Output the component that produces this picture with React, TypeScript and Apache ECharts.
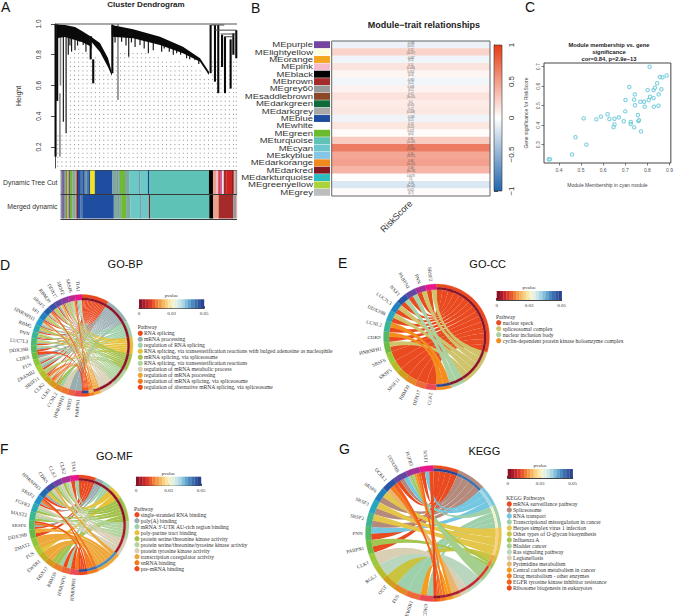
import React, { useEffect, useRef } from "react";
import * as echarts from "echarts";

const SANS = "Liberation Sans";
const SERIF = "Liberation Serif";

/* ---------- A: dendrogram ---------- */
// [x (percent of leaves), upper height, lower height]
const archOne = [[1.6, 0.997, 0.909], [5.5, 0.9935, 0.915], [11, 0.98, 0.896], [14.8, 0.954, 0.883], [19.2, 0.922, 0.857]];
const archTwo = [[19.2, 0.922, 0.896], [24.7, 0.876, 0.818], [29.1, 0.779, 0.72], [31.3, 0.681, 0.662]];
const archThree = [[31.2, 0.9935, 0.917], [42.9, 0.966, 0.907], [57.7, 0.917, 0.863], [70.3, 0.852, 0.809], [79.7, 0.777, 0.755], [84.6, 0.69, 0.668]];
// [x, top, bottom]
const dendroTrunks = [[0.3, 1, 0.137], [1.2, 1, 0.5], [31.5, 0.997, 0.68], [85.5, 0.9935, 0.68], [87.9, 0.9935, 0.625], [89.7, 0.9935, 0.55], [93.4, 0.917, 0.55], [96.5, 0.9, 0.58], [99.6, 0.96, 0.777], [98, 0.94, 0.8], [91.8, 0.93, 0.72], [19.6, 0.92, 0.77], [21, 0.77, 0.614]];
const dendroStems = [[2.7, 0.55, 0.137], [3, 0.93, 0.6], [34.6, 1, 0.505], [20, 0.92, 0.84]];
const dendroBranches = [
  [4.6, 0.97, 0.365], [6.1, 0.95, 0.29], [7.3, 0.95, 0.8], [8.2, 0.95, 0.86], [9.1, 0.93, 0.82], [11, 0.92, 0.83], [12.4, 0.9, 0.86], [13.7, 0.9, 0.885], [15.5, 0.9, 0.863], [17, 0.88, 0.82], [18.3, 0.88, 0.874],
  [33, 0.95, 0.88], [36.6, 0.95, 0.885], [39, 0.92, 0.86], [40.5, 0.92, 0.787], [42, 0.92, 0.88], [44, 0.91, 0.85], [46.7, 0.91, 0.863], [49, 0.9, 0.84], [51.3, 0.89, 0.81], [54, 0.88, 0.83], [58.6, 0.87, 0.82], [60, 0.87, 0.84], [62.8, 0.85, 0.82], [65, 0.84, 0.8], [66.8, 0.84, 0.81], [69, 0.82, 0.8], [72.3, 0.82, 0.777], [74, 0.79, 0.77], [76.9, 0.79, 0.766], [79, 0.76, 0.74]
];
// [x1, x2, height]
const dendroJoins = [[0, 100, 1], [88, 99.6, 0.96], [91, 99, 0.935], [85.5, 93, 0.9935], [93, 98, 0.917]];
const dotColumns = [1.5, 3.8, 6.1, 8.4, 10.7, 13, 15.3, 17.6, 19.9, 22.2, 24.5, 26.8, 29.1, 31.4, 33.7, 36, 38.3, 40.6, 42.9, 45.2, 47.5, 49.8, 52.1, 54.4, 56.7, 59, 61.3, 63.6, 65.9, 68.2, 70.5, 72.8, 75.1, 77.4, 79.7, 82, 84.3, 86.6, 88.9, 91.2, 93.5, 95.8, 98.1, 99.6];
const dotCeilings = [0.3, 0.3, 0.3, 0.8, 0.82, 0.84, 0.83, 0.82, 0.8, 0.8, 0.78, 0.74, 0.68, 0.65, 0.8, 0.83, 0.82, 0.82, 0.82, 0.82, 0.82, 0.82, 0.8, 0.8, 0.8, 0.78, 0.78, 0.77, 0.76, 0.76, 0.75, 0.74, 0.73, 0.72, 0.71, 0.66, 0.64, 0.76, 0.76, 0.76, 0.76, 0.76, 0.76, 0.76];
const dotRows = [0.075, 0.103, 0.131, 0.16, 0.188, 0.216, 0.244, 0.272, 0.301, 0.329, 0.357, 0.385, 0.413, 0.442, 0.47, 0.498, 0.526, 0.554, 0.583, 0.611, 0.639, 0.667, 0.695, 0.724, 0.752, 0.78, 0.808, 0.836];
const heightTicks = [0.2, 0.4, 0.6, 0.8, 1.0];

const trackNames = ["Dynamic Tree Cut", "Merged dynamic"];
const moduleColors: Record<string, string> = {
  a: "#7d9a98", b: "#7a4f9e", c: "#6f9d97", d: "#9a7a6a", e: "#a8cc3b", f: "#6abb2e", g: "#8fa89a", h: "#a0a0a0", i: "#861a22",
  j: "#1f4ea1", k: "#4d78a8", l: "#6d95a8", m: "#f2e423", n: "#7ea79f", o: "#6dbb30", p: "#6cc8c4", q: "#1b3f8f", r: "#5ec2b6", s: "#000000",
  t: "#e9a08c", u: "#f5bccb", v: "#d8443f", w: "#c8459a", x: "#f3e3e3", y: "#a52a2a", z: "#d32020", A: "#8a1f22", B: "#e3b09c", C: "#999999"
};
const treeCutModules = ["a", "b", "c", "d", "e", "b", "f", "g", "h", "i", "j", "k", "j", "l", "k", "j", "m", "j", "n", "a", "n", "o", "n", "p", "l", "p", "q", "r", "s", "t", "u", "v", "w", "x", "y", "z", "A", "B", "C"];
const treeCutWidths = [5, 5, 5, 5, 5, 4, 7, 9, 4, 4, 8, 6, 6, 6, 7, 4, 14, 53, 12, 6, 5, 15, 13, 30, 4, 23, 4, 181, 12, 9, 7, 6, 5, 6, 8, 16, 6, 5, 5];
const mergedModules = ["a", "b", "c", "d", "e", "b", "f", "g", "h", "i", "j", "k", "j", "n", "a", "n", "o", "n", "p", "l", "p", "i", "r", "s", "t", "y", "C", "B"];
const mergedWidths = [5, 5, 5, 5, 5, 4, 7, 9, 4, 4, 8, 6, 96, 12, 6, 5, 15, 13, 30, 4, 23, 4, 181, 12, 17, 44, 10, 2];

/* ---------- B: module-trait heatmap ---------- */
const moduleNames = ["MEpurple", "MElightyellow", "MEorange", "MEpink", "MEblack", "MEbrown", "MEgrey60", "MEsaddlebrown", "MEdarkgreen", "MEdarkgrey", "MEblue", "MEwhite", "MEgreen", "MEturquoise", "MEcyan", "MEskyblue", "MEdarkorange", "MEdarkred", "MEdarkturquoise", "MEgreenyellow", "MEgrey"];
const moduleSwatches = ["#7645a0", "#fdfde0", "#f5a623", "#f7bccb", "#000000", "#a52a2a", "#999999", "#8b4726", "#0f6b3a", "#a9a9a9", "#1f4ea1", "#ffffff", "#6abb2e", "#5fc2b5", "#6ec6cf", "#85c5e5", "#f08a1d", "#861a22", "#2bbcc0", "#acd23c", "#bdbdbd"];
const correlations = [-0.084, 0.22, -0.067, 0.14, 0.054, -0.061, 0.066, 0.15, 0.1, 0.12, -0.069, 0.13, 0.021, 0.26, 0.67, 0.45, 0.48, 0.38, 0.0073, -0.16, 0.021];
const pValueText = ["0.07", "2e-07", "0.2", "0.006", "0.3", "0.2", "0.2", "3e-05", "0.05", "0.008", "0.2", "0.01", "0.6", "1e-09", "7e-66", "1e-21", "5e-25", "9e-18", "1", "4e-04", "0.7"];
const correlationColors = ["#2166ac", "#ffffff", "#e63c14"];
const correlationTicks = ["−1", "−0.5", "0", "0.5", "1"];

/* ---------- C: scatter ---------- */
const membership = [0.354, 0.359, 0.459, 0.475, 0.524, 0.512, 0.569, 0.59, 0.62, 0.628, 0.651, 0.651, 0.647, 0.671, 0.693, 0.701, 0.7, 0.718, 0.725, 0.724, 0.74, 0.74, 0.743, 0.744, 0.757, 0.759, 0.762, 0.771, 0.768, 0.785, 0.788, 0.801, 0.806, 0.812, 0.81, 0.828, 0.828, 0.834, 0.829, 0.85, 0.844, 0.851, 0.857, 0.868, 0.863, 0.887];
const significance = [0.225, 0.225, 0.25, 0.338, 0.3, 0.435, 0.43, 0.444, 0.456, 0.432, 0.433, 0.404, 0.39, 0.44, 0.42, 0.529, 0.471, 0.596, 0.416, 0.406, 0.531, 0.389, 0.558, 0.502, 0.452, 0.421, 0.426, 0.368, 0.52, 0.52, 0.495, 0.58, 0.529, 0.546, 0.7, 0.539, 0.58, 0.592, 0.495, 0.5, 0.615, 0.558, 0.647, 0.645, 0.584, 0.655];
const membershipTicks = [0.4, 0.5, 0.6, 0.7, 0.8, 0.9];
const significanceTicks = [0.3, 0.4, 0.5, 0.6, 0.7];

/* ---------- D-G: chord panels ---------- */
const geneRingStops = ["#e8178a", "#7b3fa0", "#2457a6", "#20a0cf", "#3fb98a", "#62b945", "#a8cf38", "#c9a51c", "#ef7b2a", "#e94b55"];
const pvalueColors = ["#8c1327", "#a61c2a", "#c4262b", "#d93a2b", "#e8592f", "#f07c3a", "#f39a48", "#f6b765", "#f8d185", "#f9e6a6", "#f5f2cc", "#e3f0e4", "#cbe6ea", "#a9d5e4", "#84bedb", "#63a5ce", "#4a8abf", "#3c6fae", "#33579f", "#2b4490"];
const pvalueTicks = [0, 0.0125, 0.025, 0.0375, 0.05];

const bpGenes = ["TIA1", "SRSF6", "SRSF2", "DDX17", "RBM39", "SRSF5", "SF1", "HNRNPH1", "RBM5", "PNN", "LUC7L3", "DDX39B", "CDK9", "FUS", "ZRANB2", "SRSF11", "CLK2", "CLK1", "CCNL2", "HNRNPH3", "SRRT", "PABPN1"];
const bpLinks = [[0, 1, 2, 5, 6], [0, 1, 2, 3, 4, 5, 6, 7, 8, 9], [0, 1, 3, 4, 5], [0, 1, 6, 7], [0, 1, 3, 4, 5], [0, 1, 2, 6, 7, 8, 9], [0, 1, 3, 4, 5], [0, 1, 2, 6, 7, 9], [0, 1, 3, 4], [0, 1, 3, 4, 5], [0, 1, 3, 5], [0, 1, 5], [1, 9], [0, 1, 2, 6], [0, 1, 2], [0, 1, 3, 4, 5], [0, 2, 6, 7, 8, 9], [0, 2, 6, 7, 8, 9], [2, 4], [6], [1], [1]];
const bpPathways = ["RNA splicing", "mRNA processing", "regulation of RNA splicing", "RNA splicing, via transesterification reactions with bulged adenosine as nucleophile", "mRNA splicing, via spliceosome", "RNA splicing, via transesterification reactions", "regulation of mRNA metabolic process", "regulation of mRNA processing", "regulation of mRNA splicing, via spliceosome", "regulation of alternative mRNA splicing, via spliceosome"];
const bpPathwayColors = ["#ea4a20", "#99aeb1", "#9dd0ab", "#e6c23c", "#a5c250", "#b2d59f", "#d9cfb4", "#eea83a", "#f47a1f", "#ee4a1c"];
const bpSpans = [31, 30, 19, 20, 20, 20, 18, 8, 6, 8];
const bpPvalues = [0.0002, 0.0003, 0.0006, 0.0008, 0.001, 0.001, 0.002, 0.003, 0.018, 0.05];

const ccGenes = ["SRSF2", "PNN", "PABPN1", "NXF1", "LUC7L3", "DDX39B", "CCNL2", "CDK9", "HNRNPH1", "SRSF6", "SRSF5", "SRSF11", "RBM39", "DDX17", "CLK2"];
const ccLinks = [[0, 1], [0, 1], [0, 2], [0, 2], [0, 1], [0, 1], [0, 3], [0, 3], [0, 1], [0], [0], [0], [0], [0], [0]];
const ccPathways = ["nuclear speck", "spliceosomal complex", "nuclear inclusion body", "cyclin-dependent protein kinase holoenzyme complex"];
const ccPathwayColors = ["#ea4a20", "#cfc36c", "#a9d2a4", "#f58c1e"];
const ccSpans = [107, 40, 17, 16];
const ccPvalues = [0.0008, 0.0005, 0.002, 0.05];

const mfGenes = ["TIA1", "CLK2", "CLK1", "CDK9", "HNRNPH3", "SRSF2", "FGFR3", "MAST2", "SRSF6", "DDX39B", "ZMAT2", "FUS", "EWSR1", "DDX17", "RBM39", "HNRNPU", "HNRNPH1"];
const mfLinks = [[0, 2], [4, 5, 6], [4, 5, 6], [4, 5, 6, 7], [0, 1, 3], [0, 1, 8, 9], [4, 5, 6], [4, 5, 6], [0, 1, 8, 9], [0, 7], [7], [7, 3], [7], [7, 4], [4, 2], [2, 9], [9, 8]];
const mfPathways = ["single-stranded RNA binding", "poly(A) binding", "mRNA 3'-UTR AU-rich region binding", "poly-purine tract binding", "protein serine/threonine kinase activity", "protein serine/threonine/tyrosine kinase activity", "protein tyrosine kinase activity", "transcription coregulator activity", "snRNA binding", "pre-mRNA binding"];
const mfPathwayColors = ["#ea4a20", "#99aeb1", "#9dd0ab", "#e6c23c", "#a2c24c", "#b2d59f", "#d9cfb4", "#eea83a", "#f47a1f", "#ee4a1c"];
const mfSpans = [20, 10, 10, 16, 30, 21, 20, 30, 13, 10];
const mfPvalues = [0.0005, 0.001, 0.001, 0.002, 0.002, 0.003, 0.004, 0.041, 0.043, 0.05];

const keggGenes = ["NXF1", "FGFR3", "DDX39B", "UCKL1", "SRSF6", "SRSF3", "SRSF2", "PNN", "PABPN1", "CLK1", "RGL2", "OGT", "FUS", "EWSR1", "CDK9"];
const keggLinks = [[2, 14, 0], [3, 6, 7, 11, 12, 13], [0, 1, 2], [10, 12, 13], [1, 4], [1, 4], [1, 4], [0, 2], [0, 6], [9], [8], [5], [3], [3], [3, 11]];
const keggPathways = ["mRNA surveillance pathway", "Spliceosome", "RNA transport", "Transcriptional misregulation in cancer", "Herpes simplex virus 1 infection", "Other types of O-glycan biosynthesis", "Influenza A", "Bladder cancer", "Ras signaling pathway", "Legionellosis", "Pyrimidine metabolism", "Central carbon metabolism in cancer", "Drug metabolism - other enzymes", "EGFR tyrosine kinase inhibitor resistance", "Ribosome biogenesis in eukaryotes"];
const keggPathwayColors = ["#ea4a20", "#b48a7d", "#74c7e0", "#9dd0ab", "#e3c64a", "#c9c340", "#a4c551", "#a4cf8d", "#b9d6bf", "#d8cfb5", "#e9b56f", "#f59c1f", "#f47b20", "#f35f1c", "#ee4a1c"];
const keggSpans = [22, 25, 18, 20, 25, 6, 5, 13, 15, 7, 7, 6, 5, 3, 3];
const keggPvalues = [0.05, 0.043, 0.033, 0.027, 0.021, 0.017, 0.013, 0.01, 0.007, 0.006, 0.005, 0.004, 0.003, 0.001, 0.0005];

const chordPanels = [
  { genes: bpGenes, links: bpLinks, pathways: bpPathways, colors: bpPathwayColors, spans: bpSpans, pvals: bpPvalues, cx: 82, cy: 345.5, R: 51, title: "GO-BP", tx: 125.3, ty: 263.5, header: "Pathway", barX: 139, barY: 299.3, hx: 137.7, hy: 327.3, lx: 140.3, ly: 333.3, textX: 144 },
  { genes: ccGenes, links: ccLinks, pathways: ccPathways, colors: ccPathwayColors, spans: ccSpans, pvals: ccPvalues, cx: 436.5, cy: 337, R: 53, title: "GO-CC", tx: 487.7, ty: 264, header: "Pathway", barX: 496.7, barY: 291, hx: 496, hy: 316.7, lx: 498.7, ly: 322.7, textX: 502.7 },
  { genes: mfGenes, links: mfLinks, pathways: mfPathways, colors: mfPathwayColors, spans: mfSpans, pvals: mfPvalues, cx: 79, cy: 525, R: 50, title: "GO-MF", tx: 114.3, ty: 456, header: "Pathway", barX: 136, barY: 476.7, hx: 134, hy: 508.7, lx: 137, ly: 514.7, textX: 140.7 },
  { genes: keggGenes, links: keggLinks, pathways: keggPathways, colors: keggPathwayColors, spans: keggSpans, pvals: keggPvalues, cx: 433.5, cy: 533.5, R: 68, title: "KEGG", tx: 484.3, ty: 450.7, header: "KEGG Pathways", barX: 507.7, barY: 469, hx: 506.3, hy: 498, lx: 509.3, ly: 504, textX: 513 }
];

const panelLetters: [string, number, number][] = [["A", 1, 7], ["B", 251, 8], ["C", 525, 7], ["D", 0, 265], ["E", 338, 263], ["F", 0, 449], ["G", 339, 449]];

/* ---------- helpers ---------- */
function hexToRgb(h: string) {
  return [parseInt(h.slice(1, 3), 16), parseInt(h.slice(3, 5), 16), parseInt(h.slice(5, 7), 16)];
}
function mixStops(stops: string[], t: number) {
  const pos = Math.max(0, Math.min(1, t)) * (stops.length - 1);
  const i = Math.min(Math.floor(pos), stops.length - 2);
  const f = pos - i;
  const a = hexToRgb(stops[i]);
  const b = hexToRgb(stops[i + 1]);
  return `rgb(${a.map((v, k) => Math.round(v + (b[k] - v) * f)).join(",")})`;
}
function pvalueColor(p: number) {
  return pvalueColors[Math.min(pvalueColors.length - 1, Math.floor((p / 0.05) * pvalueColors.length))];
}
const rad = (d: number) => (d * Math.PI) / 180;

function buildOption() {
  const grid: any[] = [];
  const xAxis: any[] = [];
  const yAxis: any[] = [];
  const series: any[] = [];
  const elements: any[] = [];
  const addGrid = (rect: any, x: any, y: any, extra: any = {}) => {
    grid.push({ ...rect, containLabel: false, ...extra });
    const gridIndex = grid.length - 1;
    xAxis.push({ gridIndex, ...x });
    yAxis.push({ gridIndex, ...y });
    return gridIndex;
  };
  const text = (t: string, x: number, y: number, style: any = {}, extra: any = {}) =>
    elements.push({ type: "text", x, y, z: 20, ...extra, style: { text: t, fontFamily: SANS, fontSize: 7, fill: "#222", align: "left", verticalAlign: "middle", ...style } });

  /* --- B heat first: visualMap targets series 0 --- */
  const rowsTop = 41, rowsHeight = 155;
  const heatGrid = addGrid(
    { left: 331.7, top: rowsTop, width: 158.3, height: rowsHeight },
    { type: "category", data: ["RiskScore"], axisLine: { show: false }, axisTick: { show: false }, axisLabel: { rotate: 45, fontSize: 9, fontFamily: SANS, color: "#333", margin: 6 } },
    { type: "category", data: moduleNames, inverse: true, show: false }
  );
  series.push({
    type: "heatmap", xAxisIndex: heatGrid, yAxisIndex: heatGrid,
    data: correlations.map((c, i) => [0, i, c]),
    label: { show: true, fontSize: 2.6, lineHeight: 2.9, fontFamily: SANS, color: "#555", formatter: (p: any) => `${correlations[p.dataIndex]}\n(${pValueText[p.dataIndex]})` }
  });
  const stripGrid = addGrid(
    { left: 314, top: rowsTop, width: 16, height: rowsHeight },
    { type: "value", min: 0, max: 1, show: false },
    { type: "category", data: moduleNames, inverse: true, axisLine: { show: false }, axisTick: { show: false }, axisLabel: { show: false } }
  );
  series.push({
    type: "bar", xAxisIndex: stripGrid, yAxisIndex: stripGrid, barCategoryGap: "6%",
    data: moduleSwatches.map((color) => ({ value: 1, itemStyle: { color } }))
  });
  series.push({
    type: "custom", coordinateSystem: "cartesian2d", xAxisIndex: stripGrid, yAxisIndex: stripGrid, z: 5, encode: { x: 0, y: 1 },
    data: moduleNames.map((_, i) => [0, i]),
    renderItem: (p: any, api: any) => {
      const at = api.coord([0, api.value(1)]);
      return {
        type: "text", x: at[0] - 1, y: at[1], scaleX: 1.36,
        style: { text: moduleNames[p.dataIndex], fontSize: 7, fontFamily: SANS, fill: "#333", align: "right", verticalAlign: "middle" }
      };
    }
  });
  elements.push({ type: "rect", z: 15, shape: { x: 331.7, y: rowsTop, width: 158.3, height: rowsHeight }, style: { fill: "none", stroke: "#666", lineWidth: 1 } });
  text("Module−trait relationships", 424, 25, { fontSize: 9, fontWeight: "bold", align: "center" });

  const barGrid = addGrid(
    { left: 494, top: 45, width: 8, height: 146 },
    { type: "value", min: 0, max: 1, show: false },
    {
      type: "value", min: -1, max: 1, interval: 0.5, position: "right", splitLine: { show: false },
      axisLine: { show: true, lineStyle: { color: "#222", width: 0.8 } }, axisTick: { show: true, length: 4, lineStyle: { color: "#222", width: 0.8 } },
      axisLabel: { rotate: 90, fontSize: 8, fontFamily: SANS, color: "#333", margin: 5, formatter: (v: number) => correlationTicks[Math.round((v + 1) * 2)] }
    }
  );
  series.push({
    type: "custom", coordinateSystem: "cartesian2d", xAxisIndex: barGrid, yAxisIndex: barGrid, data: [[0, -1, 1, 1]],
    renderItem: (_: any, api: any) => {
      const a = api.coord([api.value(0), api.value(3)]);
      const b = api.coord([api.value(2), api.value(1)]);
      return {
        type: "rect", shape: { x: a[0], y: a[1], width: b[0] - a[0], height: b[1] - a[1] },
        style: { fill: new echarts.graphic.LinearGradient(0, 0, 0, 1, [...correlationColors].reverse().map((color, i) => ({ offset: i / 2, color }))), stroke: "#333", lineWidth: 0.6 }
      };
    }
  });

  /* --- A dendrogram --- */
  const dGrid = addGrid(
    { left: 55, top: 24, width: 182, height: 144 },
    { type: "value", min: 0, max: 100, show: false },
    {
      type: "value", min: 0.0634, max: 1, offset: 7, splitLine: { show: false },
      axisLine: { show: true, lineStyle: { color: "#222", width: 0.8 } },
      axisTick: { show: true, length: 4, customValues: heightTicks, lineStyle: { color: "#222", width: 0.8 } },
      axisLabel: { rotate: 90, fontSize: 6.5, fontFamily: SANS, color: "#333", margin: 6, customValues: heightTicks, formatter: (v: number) => v.toFixed(1) },
      name: "Height", nameLocation: "middle", nameRotate: 90, nameGap: 26, nameTextStyle: { fontSize: 7, fontFamily: SANS, color: "#333" }
    }
  );
  const dots: number[][] = [];
  dotColumns.forEach((x, i) => dotRows.forEach((h) => { if (h < dotCeilings[i]) dots.push([x, h]); }));
  series.push({ type: "scatter", xAxisIndex: dGrid, yAxisIndex: dGrid, symbolSize: 1.1, itemStyle: { color: "#777" }, data: dots, z: 1 });
  const lineSeries = (rows: number[][], width: number, color: string) => series.push({
    type: "custom", coordinateSystem: "cartesian2d", xAxisIndex: dGrid, yAxisIndex: dGrid, z: 3, data: rows,
    renderItem: (_: any, api: any) => {
      const a = api.coord([api.value(0), api.value(1)]);
      const b = api.coord([api.value(0), api.value(2)]);
      return { type: "line", shape: { x1: a[0], y1: a[1], x2: b[0], y2: b[1] }, style: { stroke: color, lineWidth: width } };
    }
  });
  lineSeries(dendroStems, 1.6, "#888888");
  lineSeries(dendroBranches, 1.2, "#1a1a1a");
  lineSeries(dendroTrunks, 2.1, "#0a0a0a");
  [archOne, archTwo, archThree].forEach((arch) => series.push({
    type: "custom", coordinateSystem: "cartesian2d", xAxisIndex: dGrid, yAxisIndex: dGrid, z: 3, data: arch,
    renderItem: (p: any, api: any) => {
      if (p.dataIndex !== 0) return { type: "group", children: [] };
      const points = [...arch.map((r) => api.coord([r[0], r[1]])), ...[...arch].reverse().map((r) => api.coord([r[0], r[2]]))];
      return { type: "polygon", shape: { points }, style: { fill: "#0a0a0a" } };
    }
  }));
  series.push({
    type: "custom", coordinateSystem: "cartesian2d", xAxisIndex: dGrid, yAxisIndex: dGrid, z: 3, data: dendroJoins,
    renderItem: (_: any, api: any) => {
      const a = api.coord([api.value(0), api.value(2)]);
      const b = api.coord([api.value(1), api.value(2)]);
      return { type: "line", shape: { x1: a[0], y1: a[1], x2: b[0], y2: b[1] }, style: { stroke: "#555", lineWidth: 1.1 } };
    }
  });
  text("Cluster Dendrogram", 146, 4.5, { fontSize: 8, fontWeight: "bold", align: "center" });

  /* module bands */
  const bandTotal = treeCutWidths.reduce((a, b) => a + b, 0);
  const tracks = [[treeCutModules, treeCutWidths], [mergedModules, mergedWidths]] as [string[], number[]][];
  const bandRows: number[][] = [];
  const bandColors: string[] = [];
  tracks.forEach(([mods, widths], row) => {
    let at = 0;
    const sum = widths.reduce((a, b) => a + b, 0);
    mods.forEach((m, i) => {
      const w = (widths[i] * bandTotal) / sum;
      bandRows.push([at, at + w, row]);
      bandColors.push(moduleColors[m]);
      at += w;
    });
  });
  const bGrid = addGrid(
    { left: 55.5, top: 170, width: 181.5, height: 49 },
    { type: "value", min: 0, max: bandTotal, show: false },
    {
      type: "category", data: trackNames, inverse: true,
      axisLine: { show: false }, axisTick: { show: false },
      axisLabel: { fontSize: 6.8, fontFamily: SANS, color: "#333", margin: 3 },
      splitLine: { show: true, lineStyle: { color: "#222", width: 0.9 } }
    }
  );
  series.push({
    type: "custom", coordinateSystem: "cartesian2d", xAxisIndex: bGrid, yAxisIndex: bGrid, encode: { x: [0, 1], y: 2 }, data: bandRows,
    renderItem: (p: any, api: any) => {
      const a = api.coord([api.value(0), api.value(2)]);
      const b = api.coord([api.value(1), api.value(2)]);
      const h = api.size([0, 1])[1] - 1;
      return { type: "rect", shape: { x: a[0], y: a[1] - h / 2, width: b[0] - a[0] + 0.2, height: h }, style: { fill: bandColors[p.dataIndex] } };
    }
  });

  /* --- C scatter --- */
  const cGrid = addGrid(
    { left: 544, top: 63, width: 130.3, height: 100, show: true, borderColor: "#444", borderWidth: 1 },
    {
      type: "value", min: 0.3325, max: 0.906, splitLine: { show: false },
      axisLine: { show: false }, axisTick: { show: true, length: 2.5, customValues: membershipTicks, lineStyle: { color: "#444", width: 0.7 } },
      axisLabel: { fontSize: 5, fontFamily: SANS, color: "#555", margin: 4, customValues: membershipTicks, formatter: (v: number) => v.toFixed(1) },
      name: "Module Membership in cyan module", nameLocation: "middle", nameGap: 19, nameTextStyle: { fontSize: 5, fontFamily: SANS, color: "#444" }
    },
    {
      type: "value", min: 0.206, max: 0.719, splitLine: { show: false },
      axisLine: { show: false }, axisTick: { show: true, length: 2.5, customValues: significanceTicks, lineStyle: { color: "#444", width: 0.7 } },
      axisLabel: { rotate: 90, fontSize: 5, fontFamily: SANS, color: "#555", margin: 4, customValues: significanceTicks, formatter: (v: number) => v.toFixed(1) },
      name: "Gene significance for RiskScore", nameLocation: "middle", nameRotate: 90, nameGap: 16, nameTextStyle: { fontSize: 5, fontFamily: SANS, color: "#444" }
    }
  );
  series.push({
    type: "scatter", xAxisIndex: cGrid, yAxisIndex: cGrid, symbolSize: 3.4,
    itemStyle: { color: "rgba(255,255,255,0.4)", borderColor: "#62c6d8", borderWidth: 1.1 },
    data: membership.map((m, i) => [m, significance[i]])
  });
  ["Module membership vs. gene", "significance", "cor=0.84, p=2.9e−13"].forEach((t, i) =>
    text(t, 609, 44.5 + i * 7, { fontSize: 5.8, fontWeight: "bold", align: "center" }));

  /* --- chords --- */
  chordPanels.forEach((panel) => {
    const { genes, links, pathways, colors, spans, pvals, cx, cy, R } = panel;
    const g = addGrid(
      { left: cx - R, top: cy - R, width: 2 * R, height: 2 * R },
      { type: "value", min: -1, max: 1, show: false },
      { type: "value", min: -1, max: 1, show: false }
    );
    const ringIn = 1 - 5.6 / R;
    const ringMid = 1 - 3.2 / R;
    const total = spans.reduce((a, b) => a + b, 0);
    const pStart: number[] = [];
    let acc = 0;
    spans.forEach((s) => { pStart.push(acc); acc += (s / total) * 180; });
    const geneSpan = 180 / genes.length;

    const ringRows: number[][] = [];
    const ringFill: string[] = [];
    genes.forEach((_, i) => {
      ringRows.push([360 - (i + 1) * geneSpan, 360 - i * geneSpan, ringIn, 1]);
      ringFill.push(mixStops(geneRingStops, i / (genes.length - 1)));
    });
    spans.forEach((s, i) => {
      const a = pStart[i], b = a + (s / total) * 180;
      ringRows.push([a, b, ringMid, 1]);
      ringFill.push(colors[i]);
      ringRows.push([a, b, ringIn, ringMid]);
      ringFill.push(pvalueColor(pvals[i]));
    });

    const ribbonRows: number[][] = [];
    const ribbonFill: string[] = [];
    pathways.forEach((_, pi) => {
      const members = links.map((l, gi) => (l.includes(pi) ? gi : -1)).filter((v) => v >= 0);
      const span = (spans[pi] / total) * 180;
      members.forEach((gi, k) => {
        const order = [...links[gi]].sort((a, b) => a - b);
        const w = geneSpan / order.length;
        const g1 = 360 - (gi + 1) * geneSpan + order.indexOf(pi) * w;
        const p1 = pStart[pi] + (k * span) / members.length;
        ribbonRows.push([g1, g1 + w, p1, p1 + span / members.length]);
        ribbonFill.push(colors[pi]);
      });
    });

    series.push({
      type: "custom", coordinateSystem: "cartesian2d", xAxisIndex: g, yAxisIndex: g, z: 3, data: ribbonRows,
      renderItem: (p: any, api: any) => {
        const pt = (deg: number, r: number) => api.coord([r * Math.sin(rad(deg)), r * Math.cos(rad(deg))]);
        const arc = (from: number, to: number, head: string) => {
          const n = Math.max(2, Math.ceil(Math.abs(to - from) / 2));
          let d = "";
          for (let i = 0; i <= n; i++) {
            const q = pt(from + ((to - from) * i) / n, ringIn);
            d += `${i === 0 ? head : "L"}${q[0].toFixed(2)} ${q[1].toFixed(2)} `;
          }
          return d;
        };
        const c = api.coord([0, 0]);
        const [g1, g2, p1, p2] = [api.value(0), api.value(1), api.value(2), api.value(3)];
        const e1 = pt(p1, ringIn);
        const e2 = pt(g1, ringIn);
        const pathData = arc(g1, g2, "M") +
          `Q${c[0]} ${c[1]} ${e1[0].toFixed(2)} ${e1[1].toFixed(2)} ` +
          arc(p1, p2, "L") +
          `Q${c[0]} ${c[1]} ${e2[0].toFixed(2)} ${e2[1].toFixed(2)} Z`;
        return { type: "path", shape: { pathData }, style: { fill: ribbonFill[p.dataIndex] } };
      }
    });
    series.push({
      type: "custom", coordinateSystem: "cartesian2d", xAxisIndex: g, yAxisIndex: g, z: 4, data: ringRows,
      renderItem: (p: any, api: any) => {
        const pt = (deg: number, r: number) => api.coord([r * Math.sin(rad(deg)), r * Math.cos(rad(deg))]);
        const [a, b, r1, r2] = [api.value(0), api.value(1), api.value(2), api.value(3)];
        const n = Math.max(2, Math.ceil((b - a) / 2));
        const points: number[][] = [];
        for (let i = 0; i <= n; i++) points.push(pt(a + ((b - a) * i) / n, r2));
        for (let i = n; i >= 0; i--) points.push(pt(a + ((b - a) * i) / n, r1));
        return { type: "polygon", shape: { points }, style: { fill: ringFill[p.dataIndex], stroke: ringFill[p.dataIndex], lineWidth: 0.2 } };
      }
    });
    series.push({
      type: "custom", coordinateSystem: "cartesian2d", xAxisIndex: g, yAxisIndex: g, z: 5,
      data: genes.map((_, i) => [360 - (i + 0.5) * geneSpan]),
      renderItem: (p: any, api: any) => {
        const deg = api.value(0);
        const r = 1 + 3 / R;
        const at = api.coord([r * Math.sin(rad(deg)), r * Math.cos(rad(deg))]);
        const rotation = Math.atan2(-Math.cos(rad(deg)), -Math.sin(rad(deg)));
        return {
          type: "text", x: at[0], y: at[1], rotation,
          style: { text: genes[p.dataIndex], fontSize: 5, fontFamily: SERIF, fill: "#333", align: "right", verticalAlign: "middle" }
        };
      }
    });

    /* p-value bar */
    const bar = addGrid(
      { left: panel.barX, top: panel.barY, width: 65, height: 9 },
      {
        type: "value", min: 0, max: 0.05, interval: 0.0125, splitLine: { show: false },
        axisLine: { show: true, lineStyle: { color: "#111", width: 0.8 } },
        axisTick: { show: true, inside: true, length: 2, customValues: pvalueTicks, lineStyle: { color: "#111", width: 0.8 } },
        axisLabel: { fontSize: 5, fontFamily: SERIF, color: "#333", margin: 2.5, customValues: [0, 0.025, 0.05], formatter: (v: number) => (v === 0 ? "0" : v.toFixed(2)) }
      },
      { type: "value", min: 0, max: 1, show: false }
    );
    series.push({
      type: "custom", coordinateSystem: "cartesian2d", xAxisIndex: bar, yAxisIndex: bar, encode: { x: [0, 1] },
      data: pvalueColors.map((_, i) => [(i * 0.05) / pvalueColors.length, ((i + 1) * 0.05) / pvalueColors.length]),
      renderItem: (p: any, api: any) => {
        const a = api.coord([api.value(0), 1]);
        const b = api.coord([api.value(1), 0]);
        return { type: "rect", shape: { x: a[0], y: a[1], width: b[0] - a[0] + 0.2, height: b[1] - a[1] }, style: { fill: pvalueColors[p.dataIndex] } };
      }
    });
    text("pvalue", panel.barX + 32.5, panel.barY - 3.4, { fontFamily: SERIF, fontSize: 5, align: "center", fill: "#333" });
    text(panel.header, panel.hx, panel.hy, { fontFamily: SERIF, fontSize: 5.6, fill: "#333" });
    pathways.forEach((name, i) => {
      const y = panel.ly + i * 6;
      elements.push({ type: "circle", z: 20, shape: { cx: panel.lx, cy: y, r: 2.6 }, style: { fill: colors[i] } });
      text(name, panel.textX, y, { fontFamily: SERIF, fontSize: 5.6, fill: "#333" });
    });
    text(panel.title, panel.tx, panel.ty, { fontSize: 11, align: "center", fill: "#111" });
  });

  panelLetters.forEach(([t, x, y]) => text(t, x, y, { fontSize: 14, fill: "#111" }));

  return {
    animation: false,
    backgroundColor: "#ffffff",
    grid, xAxis, yAxis, series,
    graphic: { elements },
    visualMap: { type: "continuous", show: false, min: -1, max: 1, seriesIndex: 0, dimension: 2, inRange: { color: correlationColors } }
  };
}

export default function App() {
  const ref = useRef<HTMLDivElement>(null);
  useEffect(() => {
    document.body.style.margin = "0";
    const chart = echarts.init(ref.current!, undefined, { renderer: "svg" });
    chart.setOption(buildOption() as any);
    return () => chart.dispose();
  }, []);
  return <div ref={ref} style={{ width: 676, height: 616 }} />;
}
